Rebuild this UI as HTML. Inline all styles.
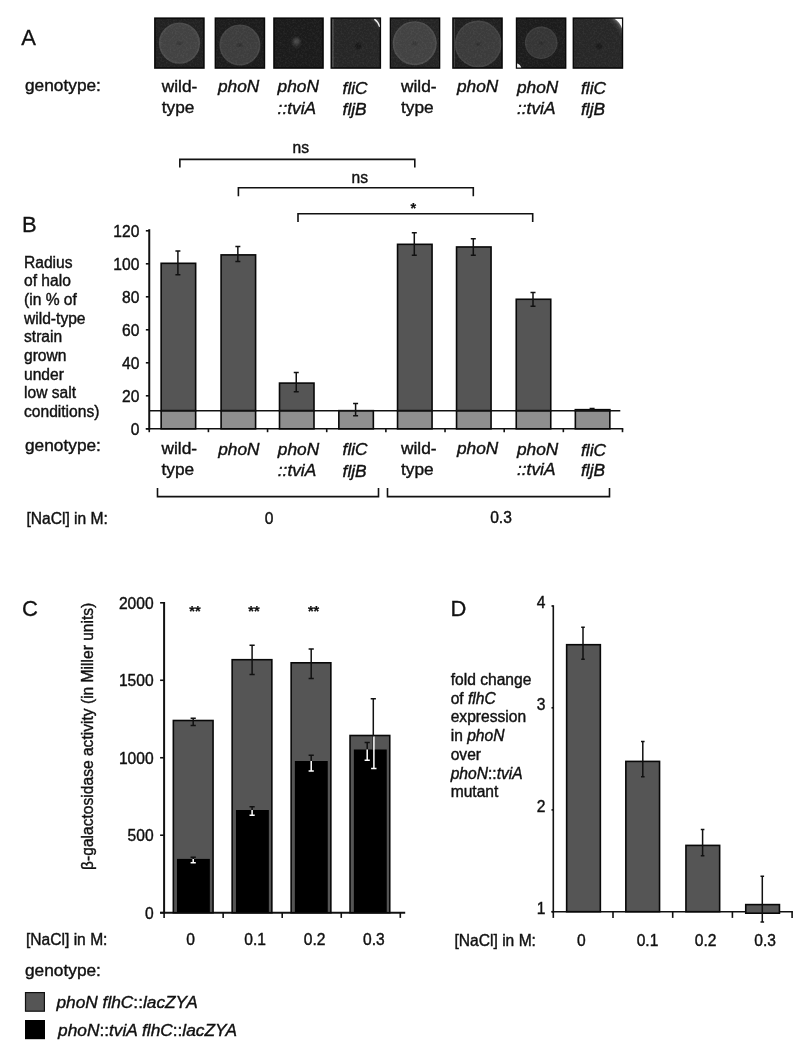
<!DOCTYPE html>
<html><head><meta charset="utf-8"><title>Figure</title>
<style>
html,body{margin:0;padding:0;background:#fff;}
svg{display:block;}
text{font-family:"Liberation Sans",Arial,Helvetica,sans-serif;fill:#111;stroke:#111;stroke-width:0.4px;}
.t{font-size:17.3px;}
.i{font-style:italic;}
.k{font-size:15.6px;}
.ax2{stroke:#111;stroke-width:2;fill:none;}
.s{font-size:14.5px;font-weight:bold;stroke-width:0.2px;}
.L{font-size:22px;stroke-width:0.3px;}
.ax{stroke:#111;stroke-width:1.6;fill:none;}
.eb{stroke:#111;stroke-width:1.5;fill:none;}
.ew{stroke:#fff;stroke-width:1.5;fill:none;}
.bar{fill:#555;stroke:#080808;stroke-width:1.6;}
.lbar{fill:#8f8f8f;stroke:#080808;stroke-width:1.6;}
.kbar{fill:#000;}
</style></head><body>
<svg width="804" height="1050" viewBox="0 0 804 1050">
<defs>
<filter id="bl1" x="-20%" y="-20%" width="140%" height="140%"><feGaussianBlur stdDeviation="0.9"/></filter>
<filter id="bl2" x="-50%" y="-50%" width="200%" height="200%"><feGaussianBlur stdDeviation="1.6"/></filter>
<filter id="bl3" x="-10%" y="-10%" width="120%" height="120%"><feGaussianBlur stdDeviation="0.75"/></filter>
<filter id="bl0" x="-5%" y="-5%" width="110%" height="110%"><feGaussianBlur stdDeviation="0.5"/></filter>
<filter id="grain" x="0" y="0" width="100%" height="100%"><feTurbulence type="fractalNoise" baseFrequency="0.55" numOctaves="2" seed="7" result="n"/><feColorMatrix in="n" type="matrix" values="0 0 0 0 1  0 0 0 0 1  0 0 0 0 1  0.5 0 0 0 -0.2"/><feComposite in2="SourceGraphic" operator="in"/></filter>
</defs>
<rect width="804" height="1050" fill="#fff"/>

<text x="21.2" y="45.1" class="L">A</text>
<text x="25" y="91.2" class="t">genotype:</text>
<clipPath id="cp"><rect x="0" y="0" width="48" height="48.8"/></clipPath>
<g><rect x="154.1" y="17.4" width="50.6" height="51.4" fill="#090909"/>
<g transform="translate(155.4 18.7)" clip-path="url(#cp)">
<rect x="0" y="0" width="48" height="48.8" fill="#212121"/>
<circle cx="24.1" cy="24.4" r="19.8" fill="#434343" stroke="#4c4c4c" stroke-width="1.6" filter="url(#bl3)"/>
<ellipse cx="24.1" cy="24.7" rx="2.2" ry="1.1" fill="#212121" opacity="0.75" filter="url(#bl1)"/>
<rect x="0" y="0" width="48" height="48.8" fill="#fff" filter="url(#grain)" opacity="0.3"/>
</g></g>
<g><rect x="214.6" y="17.4" width="50.6" height="51.4" fill="#090909"/>
<g transform="translate(215.9 18.7)" clip-path="url(#cp)">
<rect x="0" y="0" width="48" height="48.8" fill="#1c1c1c"/>
<circle cx="24.0" cy="26.3" r="19.7" fill="#3c3c3c" stroke="#454545" stroke-width="1.6" filter="url(#bl3)"/>
<ellipse cx="24.0" cy="26.6" rx="2.2" ry="1.1" fill="#1c1c1c" opacity="0.75" filter="url(#bl1)"/>
<rect x="0" y="0" width="48" height="48.8" fill="#fff" filter="url(#grain)" opacity="0.3"/>
</g></g>
<g><rect x="273.2" y="17.4" width="50.6" height="51.4" fill="#090909"/>
<g transform="translate(274.5 18.7)" clip-path="url(#cp)">
<rect x="0" y="0" width="48" height="48.8" fill="#1b1b1b"/>
<ellipse cx="21.7" cy="24.0" rx="3.6" ry="4.8" fill="#333" filter="url(#bl2)"/>
<ellipse cx="22.0" cy="22.5" rx="2.8" ry="2.4000000000000004" fill="#505050" filter="url(#bl2)"/>
<rect x="0" y="0" width="48" height="48.8" fill="#fff" filter="url(#grain)" opacity="0.3"/>
</g></g>
<g><rect x="330.5" y="17.4" width="50.6" height="51.4" fill="#090909"/>
<g transform="translate(331.8 18.7)" clip-path="url(#cp)">
<rect x="0" y="0" width="48" height="48.8" fill="#262626"/>
<circle cx="26.4" cy="27.4" r="2.3" fill="#0b0b0b" filter="url(#bl1)"/>
<circle cx="26.8" cy="27.4" r="0.55" fill="#2c2c2c" filter="url(#bl0)"/>
<rect x="0.6" y="0" width="1.1" height="48.8" fill="#5a5a5a" filter="url(#bl0)"/>
<path d="M36 -1 Q46 2 49 14 L49 -1 Z" fill="#3a3a3a" filter="url(#bl1)"/>
<path d="M42.6 0.4 Q46.4 3 48.0 8.2" fill="none" stroke="#f0f0f0" stroke-width="1.5" filter="url(#bl0)"/>
<rect x="0" y="0" width="48" height="48.8" fill="#fff" filter="url(#grain)" opacity="0.3"/>
</g></g>
<g><rect x="389.7" y="17.4" width="50.6" height="51.4" fill="#090909"/>
<g transform="translate(391.0 18.7)" clip-path="url(#cp)">
<rect x="0" y="0" width="48" height="48.8" fill="#242424"/>
<circle cx="23.7" cy="24.5" r="21.2" fill="#434343" stroke="#4d4d4d" stroke-width="1.6" filter="url(#bl3)"/>
<ellipse cx="23.7" cy="24.8" rx="2.2" ry="1.1" fill="#242424" opacity="0.75" filter="url(#bl1)"/>
<rect x="0" y="0" width="48" height="48.8" fill="#fff" filter="url(#grain)" opacity="0.3"/>
</g></g>
<g><rect x="452.2" y="17.4" width="50.6" height="51.4" fill="#090909"/>
<g transform="translate(453.5 18.7)" clip-path="url(#cp)">
<rect x="0" y="0" width="48" height="48.8" fill="#1f1f1f"/>
<circle cx="24.7" cy="25.2" r="22.5" fill="#3a3a3a" stroke="#444444" stroke-width="1.6" filter="url(#bl3)"/>
<ellipse cx="24.7" cy="25.5" rx="2.2" ry="1.1" fill="#1f1f1f" opacity="0.75" filter="url(#bl1)"/>
<rect x="0.3" y="0" width="1.0" height="48.8" fill="#4a4a4a" filter="url(#bl0)"/>
<rect x="0" y="0" width="48" height="48.8" fill="#fff" filter="url(#grain)" opacity="0.3"/>
</g></g>
<g><rect x="515.8" y="17.4" width="50.6" height="51.4" fill="#090909"/>
<g transform="translate(517.0999999999999 18.7)" clip-path="url(#cp)">
<rect x="0" y="0" width="48" height="48.8" fill="#1c1c1c"/>
<circle cx="24.1" cy="24.1" r="15.5" fill="#343434" stroke="#3c3c3c" stroke-width="1.6" filter="url(#bl3)"/>
<ellipse cx="24.1" cy="24.4" rx="2.2" ry="1.1" fill="#1c1c1c" opacity="0.75" filter="url(#bl1)"/>
<path d="M-0.5 44.5 Q3.5 45.5 4.3 49.5 L-0.5 49.5 Z" fill="#f4f4f4" filter="url(#bl0)"/>
<rect x="0" y="0" width="48" height="48.8" fill="#fff" filter="url(#grain)" opacity="0.3"/>
</g></g>
<g><rect x="572.6" y="17.4" width="50.6" height="51.4" fill="#090909"/>
<g transform="translate(573.9 18.7)" clip-path="url(#cp)">
<rect x="0" y="0" width="48" height="48.8" fill="#272727"/>
<circle cx="25.1" cy="27.4" r="2.2" fill="#0a0a0a" filter="url(#bl1)"/>
<circle cx="25.5" cy="27.4" r="0.55" fill="#2c2c2c" filter="url(#bl0)"/>
<path d="M30 -2 Q44 2 50 22 L50 -2 Z" fill="#3c3c3c" filter="url(#bl2)"/>
<path d="M38 -1 Q46 3 49 13 L49 -1 Z" fill="#777" filter="url(#bl1)"/>
<path d="M40.6 0 Q46.3 3.5 48.4 10.5 L48.4 0 Z" fill="#fafafa" filter="url(#bl0)"/>
<rect x="0" y="0" width="48" height="48.8" fill="#fff" filter="url(#grain)" opacity="0.3"/>
</g></g>
<text x="161.8" y="91.5" class="t">wild-</text>
<text x="161.8" y="112.5" class="t">type</text>
<text x="218" y="92.1" class="t i">phoN</text>
<text x="277.6" y="92.2" class="t i">phoN</text>
<text x="277.6" y="113.6" class="t i">::tviA</text>
<text x="342.6" y="93.6" class="t i">fliC</text>
<text x="342.6" y="114.9" class="t i">fljB</text>
<text x="401" y="92.1" class="t">wild-</text>
<text x="401" y="112.8" class="t">type</text>
<text x="457" y="92.1" class="t i">phoN</text>
<text x="517" y="93.1" class="t i">phoN</text>
<text x="517" y="113.6" class="t i">::tviA</text>
<text x="581" y="94.2" class="t i">fliC</text>
<text x="581" y="114.9" class="t i">fljB</text>
<text x="22.0" y="232.3" class="L">B</text>
<text x="24" y="267.5" class="k">Radius</text>
<text x="24" y="286.2" class="k">of halo</text>
<text x="24" y="304.9" class="k">(in % of</text>
<text x="24" y="323.6" class="k">wild-type</text>
<text x="24" y="342.3" class="k">strain</text>
<text x="24" y="361.0" class="k">grown</text>
<text x="24" y="379.7" class="k">under</text>
<text x="24" y="398.4" class="k">low salt</text>
<text x="24" y="417.1" class="k">conditions)</text>
<line class="ax" x1="145.85" y1="428.80" x2="149.25" y2="428.80"/>
<text x="139.4" y="435.1" class="k" text-anchor="end">0</text>
<line class="ax" x1="145.85" y1="395.80" x2="149.25" y2="395.80"/>
<text x="139.4" y="402.1" class="k" text-anchor="end">20</text>
<line class="ax" x1="145.85" y1="362.80" x2="149.25" y2="362.80"/>
<text x="139.4" y="369.1" class="k" text-anchor="end">40</text>
<line class="ax" x1="145.85" y1="329.80" x2="149.25" y2="329.80"/>
<text x="139.4" y="336.1" class="k" text-anchor="end">60</text>
<line class="ax" x1="145.85" y1="296.80" x2="149.25" y2="296.80"/>
<text x="139.4" y="303.1" class="k" text-anchor="end">80</text>
<line class="ax" x1="145.85" y1="263.80" x2="149.25" y2="263.80"/>
<text x="139.4" y="270.1" class="k" text-anchor="end">100</text>
<line class="ax" x1="145.85" y1="230.80" x2="149.25" y2="230.80"/>
<text x="139.4" y="237.1" class="k" text-anchor="end">120</text>
<line class="ax2" x1="149.25" y1="229.2" x2="149.25" y2="429.6"/>
<line class="ax" x1="145.85" y1="428.8" x2="623.3" y2="428.8"/>
<line class="ax" x1="149.25" y1="428.8" x2="149.25" y2="432.2"/>
<line class="ax" x1="208.41" y1="428.8" x2="208.41" y2="432.2"/>
<line class="ax" x1="267.56" y1="428.8" x2="267.56" y2="432.2"/>
<line class="ax" x1="326.72" y1="428.8" x2="326.72" y2="432.2"/>
<line class="ax" x1="385.88" y1="428.8" x2="385.88" y2="432.2"/>
<line class="ax" x1="445.03" y1="428.8" x2="445.03" y2="432.2"/>
<line class="ax" x1="504.19" y1="428.8" x2="504.19" y2="432.2"/>
<line class="ax" x1="563.34" y1="428.8" x2="563.34" y2="432.2"/>
<line class="ax" x1="622.50" y1="428.8" x2="622.50" y2="432.2"/>
<rect class="bar" x="161.15" y="263.31" width="34.5" height="147.39"/>
<rect class="lbar" x="161.15" y="410.7" width="34.5" height="18.10"/>
<path class="eb" d="M177.9 251.1V274.7M175.4 251.1H180.4M175.4 274.7H180.4"/>
<rect class="bar" x="221.1" y="254.89" width="34.5" height="155.81"/>
<rect class="lbar" x="221.1" y="410.7" width="34.5" height="18.10"/>
<path class="eb" d="M237.85 246.6V261.5M235.35 246.6H240.35M235.35 261.5H240.35"/>
<rect class="bar" x="279.5" y="383.10" width="34.5" height="27.60"/>
<rect class="lbar" x="279.5" y="410.7" width="34.5" height="18.10"/>
<path class="eb" d="M296.25 372.6V391.8M293.75 372.6H298.75M293.75 391.8H298.75"/>
<rect class="lbar" x="338.85" y="410.65" width="34.5" height="18.15"/>
<path class="eb" d="M355.6 403.6V415.8M353.1 403.6H358.1M353.1 415.8H358.1"/>
<rect class="bar" x="397.55" y="244.33" width="34.5" height="166.37"/>
<rect class="lbar" x="397.55" y="410.7" width="34.5" height="18.10"/>
<path class="eb" d="M414.3 232.8V255.2M411.8 232.8H416.8M411.8 255.2H416.8"/>
<rect class="bar" x="456.55" y="246.97" width="34.5" height="163.73"/>
<rect class="lbar" x="456.55" y="410.7" width="34.5" height="18.10"/>
<path class="eb" d="M473.3 238.8V255.2M470.8 238.8H475.8M470.8 255.2H475.8"/>
<rect class="bar" x="516.25" y="299.27" width="34.5" height="111.43"/>
<rect class="lbar" x="516.25" y="410.7" width="34.5" height="18.10"/>
<path class="eb" d="M533.0 292.5V306.2M530.5 292.5H535.5M530.5 306.2H535.5"/>
<rect class="bar" x="575.35" y="409.66" width="34.5" height="1.04"/>
<rect class="lbar" x="575.35" y="410.7" width="34.5" height="18.10"/>
<path class="eb" d="M592.1 408.6V409.8M589.6 408.6H594.6M589.6 409.8H594.6"/>
<line class="ax" x1="149.25" y1="410.7" x2="620.3" y2="410.7"/>
<path class="ax" d="M179.85 167.4V159.4H414.8V167.4"/>
<path class="ax" d="M238.4 196.3V187.8H473.3V196.3"/>
<path class="ax" d="M298 222.10000000000002V213.8H532.7V222.10000000000002"/>
<text x="300.7" y="153.0" class="k" text-anchor="middle">ns</text>
<text x="359.7" y="182.5" class="k" text-anchor="middle">ns</text>
<text x="413.3" y="213.2" class="s" text-anchor="middle">*</text>
<text x="25" y="451.4" class="t">genotype:</text>
<text x="161.5" y="453.7" class="t">wild-</text>
<text x="161.5" y="474.5" class="t">type</text>
<text x="218.2" y="454.5" class="t i">phoN</text>
<text x="277.8" y="455.2" class="t i">phoN</text>
<text x="277.8" y="476" class="t i">::tviA</text>
<text x="342.6" y="455.3" class="t i">fliC</text>
<text x="342.6" y="477" class="t i">fljB</text>
<text x="401" y="453.7" class="t">wild-</text>
<text x="401" y="474.5" class="t">type</text>
<text x="457" y="453.5" class="t i">phoN</text>
<text x="517" y="454.6" class="t i">phoN</text>
<text x="517" y="475.4" class="t i">::tviA</text>
<text x="581" y="455.6" class="t i">fliC</text>
<text x="581" y="476.4" class="t i">fljB</text>
<path class="ax" d="M157.5 488.1V496.6H378.5V488.1"/>
<path class="ax" d="M387.5 488.1V496.6H609.5V488.1"/>
<text x="26.4" y="523.6" class="k">[NaCl] in M:</text>
<text x="269" y="523.6" class="k" text-anchor="middle">0</text>
<text x="501" y="523.2" class="k" text-anchor="middle">0.3</text>
<text x="22.1" y="616" class="L">C</text>
<line class="ax" x1="160.1" y1="912.70" x2="164.1" y2="912.70"/>
<text x="153.6" y="918.7" class="k" text-anchor="end">0</text>
<line class="ax" x1="160.1" y1="835.23" x2="164.1" y2="835.23"/>
<text x="153.6" y="841.23" class="k" text-anchor="end">500</text>
<line class="ax" x1="160.1" y1="757.75" x2="164.1" y2="757.75"/>
<text x="153.6" y="763.75" class="k" text-anchor="end">1000</text>
<line class="ax" x1="160.1" y1="680.27" x2="164.1" y2="680.27"/>
<text x="153.6" y="686.27" class="k" text-anchor="end">1500</text>
<line class="ax" x1="160.1" y1="602.80" x2="164.1" y2="602.80"/>
<text x="153.6" y="608.8" class="k" text-anchor="end">2000</text>
<line class="ax2" x1="164.1" y1="602.0" x2="164.1" y2="913.5"/>
<line class="ax2" x1="160.1" y1="912.7" x2="405.2" y2="912.7"/>
<line class="ax" x1="164.10" y1="912.7" x2="164.10" y2="917.9000000000001"/>
<line class="ax" x1="223.15" y1="912.7" x2="223.15" y2="917.9000000000001"/>
<line class="ax" x1="282.20" y1="912.7" x2="282.20" y2="917.9000000000001"/>
<line class="ax" x1="341.25" y1="912.7" x2="341.25" y2="917.9000000000001"/>
<line class="ax" x1="400.30" y1="912.7" x2="400.30" y2="917.9000000000001"/>
<rect class="bar" x="173.35" y="720.5" width="39.7" height="192.20"/>
<rect class="kbar" x="176.95" y="858.9" width="32.9" height="53.10"/>
<path class="eb" d="M193.2 718.3V725.6M190.6 718.3H195.79999999999998M190.6 725.6H195.79999999999998"/>
<path class="eb" d="M193.2 857.3V858.9M190.6 857.3H195.79999999999998"/>
<path class="ew" d="M193.2 858.9V862.7M190.6 862.7H195.79999999999998"/>
<rect class="bar" x="232.15" y="659.7" width="39.7" height="253.00"/>
<rect class="kbar" x="235.95" y="810.0" width="32.9" height="102.00"/>
<path class="eb" d="M252.1 645.2V674.6M249.5 645.2H254.7M249.5 674.6H254.7"/>
<path class="eb" d="M252.1 806.8V810.0M249.5 806.8H254.7"/>
<path class="ew" d="M252.1 810.0V815.3M249.5 815.3H254.7"/>
<rect class="bar" x="291.15" y="662.8" width="39.7" height="249.90"/>
<rect class="kbar" x="294.85" y="761.0" width="32.9" height="151.00"/>
<path class="eb" d="M311.2 649.0V678.4M308.59999999999997 649.0H313.8M308.59999999999997 678.4H313.8"/>
<path class="eb" d="M311.2 755.2V761.0M308.59999999999997 755.2H313.8"/>
<path class="ew" d="M311.2 761.0V770.9M308.59999999999997 770.9H313.8"/>
<rect class="bar" x="350.05" y="735.5" width="39.7" height="177.20"/>
<rect class="kbar" x="353.85" y="749.5" width="32.9" height="162.50"/>
<path class="eb" d="M373.3 698.8V749.5M370.7 698.8H375.90000000000003"/>
<path class="ew" d="M373.90000000000003 736.5V768.6M371.1 768.6H376.5"/>
<path class="eb" d="M367.2 742.4V749.5M364.59999999999997 742.4H369.8"/>
<path class="ew" d="M367.2 749.5V760.2M364.59999999999997 760.2H369.8"/>
<text x="194.9" y="615.5" class="s" text-anchor="middle">**</text>
<text x="253.9" y="615.5" class="s" text-anchor="middle">**</text>
<text x="313.6" y="615.5" class="s" text-anchor="middle">**</text>
<text class="k" text-anchor="middle" transform="translate(93.3,736.3) rotate(-90)">β-galactosidase activity (in Miller units)</text>
<text x="26" y="945" class="k">[NaCl] in M:</text>
<text x="190.6" y="945" class="k" text-anchor="middle">0</text>
<text x="255.1" y="945" class="k" text-anchor="middle">0.1</text>
<text x="314.6" y="945" class="k" text-anchor="middle">0.2</text>
<text x="373.9" y="945" class="k" text-anchor="middle">0.3</text>
<text x="25" y="976" class="t">genotype:</text>
<rect x="25.5" y="992.6" width="18.9" height="18.6" fill="#555" stroke="#111" stroke-width="1.2"/>
<rect x="25" y="1020" width="20" height="19.2" fill="#000"/>
<text x="56.5" y="1007.5" class="t"><tspan class="i">phoN flhC</tspan>::<tspan class="i">lacZYA</tspan></text>
<text x="58.1" y="1035.9" class="t"><tspan class="i">phoN</tspan>::<tspan class="i">tviA flhC</tspan>::<tspan class="i">lacZYA</tspan></text>
<text x="450.6" y="615.7" class="L">D</text>
<line class="ax" x1="551.5" y1="911.7" x2="553.3" y2="911.7"/>
<text x="545.5" y="913.6" class="k" text-anchor="end">1</text>
<line class="ax" x1="551.5" y1="809.9" x2="553.3" y2="809.9"/>
<text x="545.5" y="811.8" class="k" text-anchor="end">2</text>
<line class="ax" x1="551.5" y1="707.8" x2="553.3" y2="707.8"/>
<text x="545.5" y="709.7" class="k" text-anchor="end">3</text>
<line class="ax" x1="551.5" y1="606.0" x2="553.3" y2="606.0"/>
<text x="545.5" y="607.9" class="k" text-anchor="end">4</text>
<line class="ax" x1="553.3" y1="605.3" x2="553.3" y2="912.5"/>
<line class="ax" x1="551.5" y1="911.7" x2="792.9" y2="911.7"/>
<line class="ax" x1="553.30" y1="911.7" x2="553.30" y2="917.9000000000001"/>
<line class="ax" x1="613.00" y1="911.7" x2="613.00" y2="917.9000000000001"/>
<line class="ax" x1="672.70" y1="911.7" x2="672.70" y2="917.9000000000001"/>
<line class="ax" x1="732.40" y1="911.7" x2="732.40" y2="917.9000000000001"/>
<line class="ax" x1="792.10" y1="911.7" x2="792.10" y2="917.9000000000001"/>
<rect class="bar" x="566.65" y="644.7" width="33.7" height="267.00"/>
<path class="eb" d="M583.0 627.2V659.3M581.2 627.2H584.8M581.2 659.3H584.8"/>
<rect class="bar" x="625.85" y="761.4" width="33.7" height="150.30"/>
<path class="eb" d="M642.8 741.6V776.7M641.0 741.6H644.5999999999999M641.0 776.7H644.5999999999999"/>
<rect class="bar" x="685.95" y="845.4" width="33.7" height="66.30"/>
<path class="eb" d="M702.6 829.6V855.8M700.8000000000001 829.6H704.4M700.8000000000001 855.8H704.4"/>
<rect class="bar" x="745.75" y="904.6" width="33.7" height="8.60"/>
<path class="eb" d="M762.3 876.2V921.9M760.5 876.2H764.0999999999999M760.5 921.9H764.0999999999999"/>
<text x="450.7" y="685.0" class="k">fold change</text>
<text x="450.7" y="703.7" class="k">of <tspan class="i">flhC</tspan></text>
<text x="450.7" y="722.4" class="k">expression</text>
<text x="450.7" y="741.1" class="k">in <tspan class="i">phoN</tspan></text>
<text x="450.7" y="759.8" class="k">over</text>
<text x="450.7" y="778.5" class="k"><tspan class="i">phoN</tspan>::<tspan class="i">tviA</tspan></text>
<text x="450.7" y="797.2" class="k">mutant</text>
<text x="454.5" y="945.5" class="k">[NaCl] in M:</text>
<text x="581.4" y="945.5" class="k" text-anchor="middle">0</text>
<text x="647.5" y="945.5" class="k" text-anchor="middle">0.1</text>
<text x="705.6" y="945.5" class="k" text-anchor="middle">0.2</text>
<text x="765.1" y="945.5" class="k" text-anchor="middle">0.3</text>
</svg></body></html>
